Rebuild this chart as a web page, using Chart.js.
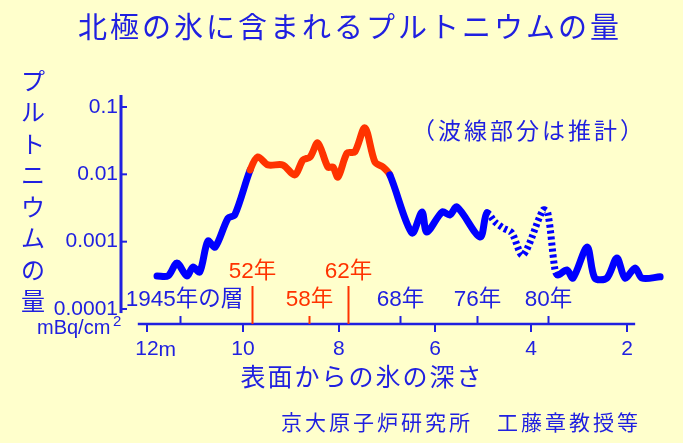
<!DOCTYPE html>
<html lang="ja">
<head>
<meta charset="UTF-8">
<title>北極の氷に含まれるプルトニウムの量</title>
<script src="https://cdn.jsdelivr.net/npm/chart.js"></script>
<style>
  body { margin: 0; background: #ffffcc; }
  #wrap { position: relative; width: 683px; height: 443px; }
</style>
</head>
<body>
<div id="wrap"><canvas id="iceChart" width="683" height="443"></canvas></div>
<script>
// depth below the surface (m) and plutonium per area (mBq/cm2)
const depths = [
  11.79, 11.56, 11.375, 11.17, 11.04, 10.90, 10.73, 10.58, 10.31, 10.17,
  9.85, 9.69, 9.48, 9.17, 8.92, 8.75, 8.60, 8.44, 8.23, 8.125,
  8.02, 7.83, 7.67, 7.46, 7.25, 7.08, 6.94, 6.48, 6.27, 6.17,
  5.85, 5.69, 5.54, 5.06, 4.92, 4.75, 4.58, 4.40, 4.17, 3.75,
  3.65, 3.50, 3.44, 3.25, 3.125, 2.83, 2.67, 2.42, 2.21, 2.04,
  1.83, 1.69, 1.31
];
const plutonium = [
  0.00031, 0.00031, 0.00048, 0.00031, 0.00042, 0.000355, 0.00102, 0.00083, 0.00224, 0.0025,
  0.0116, 0.0181, 0.0138, 0.0138, 0.0098, 0.0163, 0.0181, 0.0292, 0.0128, 0.0128,
  0.0091, 0.0207, 0.0215, 0.0488, 0.0152, 0.0128, 0.0098, 0.00135, 0.00276, 0.00139,
  0.00276, 0.0025, 0.00327, 0.00117, 0.00267, 0.00196, 0.0016, 0.00135, 0.00063, 0.00295,
  0.00267, 0.00038, 0.00032, 0.00038, 0.000288, 0.00083, 0.000288, 0.000288, 0.00057, 0.000288,
  0.000406, 0.000288, 0.0003
];
// index ranges (start point of a segment) for the red part and the estimated part
const redRange = [10, 26];
const estimatedRange = [34, 42];

const xTickValues = [12, 10, 8, 6, 4, 2];
const xTickLabels = ['12', '10', '8', '6', '4', '2'];
const yTickValues = [0.1, 0.01, 0.001, 0.0001];
const yTickLabels = ['0.1', '0.01', '0.001', '0.0001'];

// layers of known years in the ice
const yearLabels = ['1945年の層', '52年', '58年', '62年', '68年', '76年', '80年'];
const yearDepths = [11.31, 9.81, 8.63, 7.81, 6.73, 5.13, 3.65];

const FONT = '"Liberation Sans", "Noto Sans CJK JP", sans-serif';
const TEXT_BLUE = '#2020e0';
const LINE_BLUE = '#0000ff';
const RED = '#ff3300';

const yearColors = [TEXT_BLUE, RED, RED, RED, TEXT_BLUE, TEXT_BLUE, TEXT_BLUE];
const yearTickLen = [8, 38, 8, 38, 8, 8, 8];
const yearRowY = [300, 272, 300, 272, 300, 300, 300];

const inRange = (i, r) => i >= r[0] && i < r[1];

function drawText(ctx, str, x, y, size, color, align, spacing) {
  ctx.font = size + 'px ' + FONT;
  ctx.fillStyle = color;
  ctx.textAlign = align || 'center';
  ctx.textBaseline = 'middle';
  ctx.letterSpacing = (spacing || 0) + 'px';
  ctx.fillText(str, x, y);
  ctx.letterSpacing = '0px';
}

const decorations = {
  id: 'decorations',
  beforeDraw(chart) {
    const ctx = chart.ctx;
    ctx.save();
    ctx.fillStyle = '#ffffcc';
    ctx.fillRect(0, 0, chart.width, chart.height);
    ctx.restore();
  },
  afterDraw(chart) {
    const { ctx, chartArea, scales: { x, y } } = chart;
    ctx.save();
    ctx.strokeStyle = TEXT_BLUE;

    // vertical axis with inward ticks
    ctx.lineWidth = 3;
    ctx.beginPath();
    ctx.moveTo(chartArea.left, chartArea.top);
    ctx.lineTo(chartArea.left, y.getPixelForValue(0.000087));
    ctx.stroke();
    ctx.lineWidth = 2;
    yTickValues.forEach(v => {
      const py = y.getPixelForValue(v);
      ctx.beginPath();
      ctx.moveTo(chartArea.left, py);
      ctx.lineTo(chartArea.left + 6, py);
      ctx.stroke();
    });

    // horizontal axis line
    ctx.lineWidth = 2.5;
    ctx.beginPath();
    ctx.moveTo(x.getPixelForValue(12.19), chartArea.bottom);
    ctx.lineTo(x.getPixelForValue(1.83), chartArea.bottom);
    ctx.stroke();

    // year marks and their labels
    yearDepths.forEach((d, i) => {
      const px = Math.round(x.getPixelForValue(d)) + 0.5;
      ctx.strokeStyle = yearColors[i];
      ctx.lineWidth = 2;
      ctx.beginPath();
      ctx.moveTo(px, chartArea.bottom);
      ctx.lineTo(px, chartArea.bottom - yearTickLen[i]);
      ctx.stroke();
      drawText(ctx, yearLabels[i], px + (i === 0 ? 4 : 0), yearRowY[i], 22.5, yearColors[i]);
    });

    // unit after the first depth label
    ctx.font = '21px ' + FONT;
    const px12 = x.getPixelForValue(12) + ctx.measureText('12').width / 2;
    drawText(ctx, 'm', px12, 350, 21, TEXT_BLUE, 'left');

    // titles and notes
    drawText(ctx, '北極の氷に含まれるプルトニウムの量', 350, 30, 29, TEXT_BLUE, 'center', 3);
    const yTitle = 'プルトニウムの量';
    for (let i = 0; i < yTitle.length; i++) {
      drawText(ctx, yTitle[i], 33, 83 + i * 31.5, 24, TEXT_BLUE);
    }
    drawText(ctx, 'mBq/cm', 37, 328, 20, TEXT_BLUE, 'left');
    drawText(ctx, '2', 113, 322, 15, TEXT_BLUE, 'left');
    drawText(ctx, '（波線部分は推計）', 529, 133, 23, TEXT_BLUE, 'center', 3);
    drawText(ctx, '表面からの氷の深さ', 362, 379, 25, TEXT_BLUE, 'center', 2);
    drawText(ctx, '京大原子炉研究所　工藤章教授等', 461, 424, 21, TEXT_BLUE, 'center', 3);
    ctx.restore();
  }
};

const ctx = document.getElementById('iceChart').getContext('2d');
new Chart(ctx, {
  type: 'line',
  data: {
    datasets: [{
      data: depths.map((d, i) => ({ x: d, y: plutonium[i] })),
      borderColor: LINE_BLUE,
      borderWidth: 7,
      borderCapStyle: 'round',
      borderJoinStyle: 'round',
      tension: 0.3,
      pointRadius: 0,
      clip: false,
      segment: {
        borderColor: c => inRange(c.p0DataIndex, redRange) ? RED : LINE_BLUE,
        borderDash: c => inRange(c.p0DataIndex, estimatedRange) ? [3, 3] : [],
        borderCapStyle: c => inRange(c.p0DataIndex, estimatedRange) ? 'butt' : 'round'
      }
    }]
  },
  options: {
    responsive: false,
    animation: false,
    devicePixelRatio: 1,
    layout: { padding: { left: 0, top: 95, right: 20, bottom: 79 } },
    plugins: {
      legend: { display: false },
      tooltip: { enabled: false },
      title: { display: false }
    },
    scales: {
      x: {
        type: 'linear',
        reverse: true,
        min: 1.25,
        max: 12.54,
        afterBuildTicks: s => { s.ticks = xTickValues.map(v => ({ value: v })); },
        afterFit: s => { s.height = 40; },
        border: { display: false },
        grid: { drawOnChartArea: false, drawTicks: true, tickLength: 8, color: TEXT_BLUE, lineWidth: 2 },
        ticks: {
          autoSkip: false,
          maxRotation: 0,
          padding: 5,
          color: TEXT_BLUE,
          font: { family: FONT, size: 21 },
          callback: (v, i) => xTickLabels[i]
        }
      },
      y: {
        type: 'logarithmic',
        min: Math.pow(10, -4.2229),
        max: Math.pow(10, -0.8218),
        afterBuildTicks: s => { s.ticks = yTickValues.map(v => ({ value: v })); },
        afterFit: s => { s.width = 121; },
        border: { display: false },
        grid: { display: false, drawTicks: false },
        ticks: {
          autoSkip: false,
          padding: 3,
          color: TEXT_BLUE,
          font: { family: FONT, size: 21 },
          callback: (v, i) => yTickLabels[i]
        }
      }
    }
  },
  plugins: [decorations]
});
</script>
</body>
</html>
